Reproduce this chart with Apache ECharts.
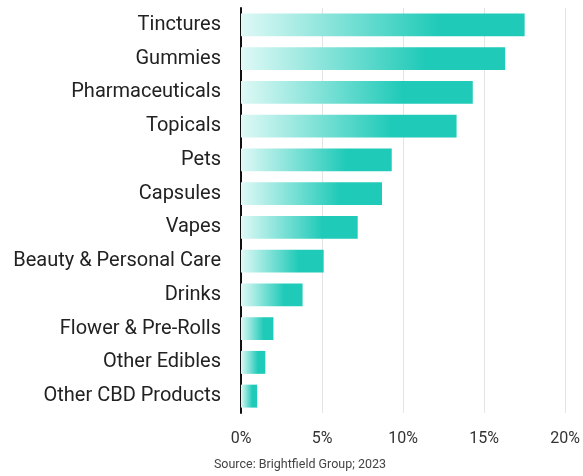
<!DOCTYPE html>
<html>
<head>
<meta charset="utf-8">
<script src="https://cdn.jsdelivr.net/npm/echarts@6/dist/echarts.min.js"></script>
<style>
  html, body { margin: 0; padding: 0; background: #fff; }
  #chart { width: 583px; height: 476px; }
</style>
</head>
<body>
<div id="chart"></div>
<script>
// CBD product category shares (percent)
var categories = [
  'Tinctures', 'Gummies', 'Pharmaceuticals', 'Topicals', 'Pets', 'Capsules',
  'Vapes', 'Beauty & Personal Care', 'Drinks', 'Flower & Pre-Rolls',
  'Other Edibles', 'Other CBD Products'
];
var shares = [17.5, 16.3, 14.3, 13.3, 9.3, 8.7, 7.2, 5.1, 3.8, 2.0, 1.5, 1.0];
var xTicks = [0, 5, 10, 15, 20];
var sourceNote = 'Source: Brightfield Group; 2023';

var chart = echarts.init(document.getElementById('chart'));

var barFill = new echarts.graphic.LinearGradient(0, 0, 1, 0, [
  { offset: 0, color: '#dff9f6' },
  { offset: 0.7, color: '#1fcab8' },
  { offset: 1, color: '#1fcab8' }
]);

chart.setOption({
  animation: false,
  backgroundColor: '#ffffff',
  grid: { left: 241, right: 16, top: 8, bottom: 63, containLabel: false },
  xAxis: {
    type: 'value',
    min: xTicks[0],
    max: xTicks[xTicks.length - 1],
    interval: xTicks[1] - xTicks[0],
    axisLine: { show: false },
    axisTick: { show: false },
    splitLine: { show: true, lineStyle: { color: '#e4e4e4', width: 1 } },
    axisLabel: {
      formatter: '{value}%',
      color: '#333',
      fontFamily: 'Roboto',
      fontSize: 16,
      margin: 18
    }
  },
  yAxis: {
    type: 'category',
    data: categories,
    inverse: true,
    axisLine: { show: true, lineStyle: { color: '#111', width: 2 } },
    axisTick: { show: false },
    axisLabel: {
      color: '#222',
      fontFamily: 'Roboto',
      fontSize: 20,
      margin: 20
    }
  },
  series: [{
    type: 'bar',
    data: shares,
    barCategoryGap: '32%',
    itemStyle: { color: barFill },
    silent: true
  }],
  graphic: [{
    type: 'text',
    x: 300,
    y: 465,
    style: {
      text: sourceNote,
      fill: '#444',
      font: '12.5px Roboto',
      textAlign: 'center',
      textVerticalAlign: 'middle'
    }
  }]
});
</script>
</body>
</html>
